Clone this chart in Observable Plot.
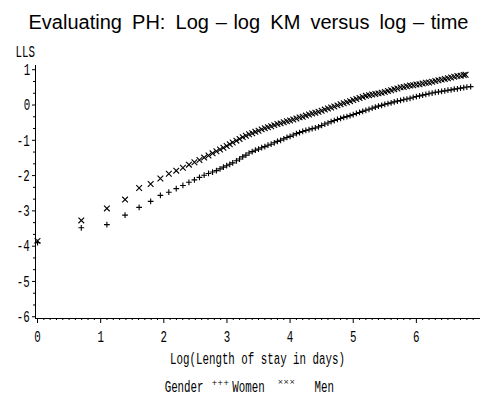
<!DOCTYPE html>
<html><head><meta charset="utf-8">
<script src="https://cdn.jsdelivr.net/npm/d3@7"></script>
<script src="https://cdn.jsdelivr.net/npm/@observablehq/plot@0.6"></script>
<style>body{margin:0;background:#fff} svg{display:block}</style>
</head><body><div id="chart"></div>
<script>
// Early distinct lengths of stay (days) -> plotted at log(day)
const earlyDays = [1,2,3,4,5,6,7,8,9,10,11,12,13,14,15,16,17,18,19,20,21,22];
const womenEarly = [-3.90,-3.48,-3.39,-3.12,-2.90,-2.73,-2.56,-2.47,-2.37,-2.28,-2.19,-2.12,-2.05,-1.99,-1.94,-1.90,-1.86,-1.81,-1.76,-1.72,-1.68,-1.64];
const menEarly   = [-3.85,-3.27,-2.93,-2.68,-2.35,-2.24,-2.08,-1.95,-1.86,-1.78,-1.69,-1.62,-1.56,-1.49,-1.43,-1.37,-1.31,-1.26,-1.21,-1.16,-1.11,-1.06];

// Dense part of the curves, read at log-time positions
const lateLogT = [3.15,3.20,3.25,3.30,3.35,3.40,3.45,3.50,3.55,3.60,3.65,3.70,3.75,3.80,3.85,3.90,3.95,
  4.00,4.05,4.10,4.15,4.20,4.25,4.30,4.35,4.40,4.45,4.50,4.55,4.60,4.65,4.70,4.75,4.80,4.85,4.90,4.95,
  5.00,5.05,5.10,5.15,5.20,5.25,5.30,5.35,5.40,5.45,5.50,5.55,5.60,5.65,5.70,5.75,5.80,5.85,5.90,5.95,
  6.00,6.05,6.10,6.15,6.20,6.25,6.30,6.35,6.40,6.45,6.50,6.55,6.60,6.65,6.70,6.75];
const womenLate = [-1.58,-1.53,-1.47,-1.42,-1.36,-1.32,-1.28,-1.25,-1.21,-1.18,-1.14,-1.11,-1.07,-1.03,-1.00,-0.96,-0.92,
  -0.89,-0.85,-0.81,-0.78,-0.75,-0.72,-0.70,-0.67,-0.65,-0.62,-0.58,-0.54,-0.51,-0.47,-0.44,-0.41,-0.38,-0.35,-0.33,-0.30,
  -0.27,-0.24,-0.21,-0.18,-0.15,-0.12,-0.09,-0.06,-0.03,-0.01,0.02,0.04,0.06,0.09,0.11,0.13,0.15,0.17,0.19,0.22,
  0.24,0.26,0.28,0.30,0.32,0.34,0.36,0.37,0.39,0.40,0.42,0.43,0.45,0.46,0.48,0.49];
const menLate = [-1.01,-0.96,-0.91,-0.87,-0.83,-0.80,-0.76,-0.73,-0.69,-0.66,-0.63,-0.60,-0.57,-0.54,-0.52,-0.49,-0.46,
  -0.44,-0.41,-0.38,-0.35,-0.33,-0.30,-0.27,-0.24,-0.22,-0.19,-0.16,-0.13,-0.10,-0.07,-0.04,-0.01,0.02,0.05,0.08,0.11,
  0.14,0.17,0.20,0.23,0.26,0.28,0.30,0.31,0.33,0.35,0.37,0.40,0.42,0.45,0.47,0.50,0.51,0.53,0.55,0.56,
  0.58,0.59,0.61,0.63,0.64,0.66,0.68,0.70,0.72,0.74,0.76,0.78,0.80,0.82,0.83,0.85];
const womenTailLogT = [6.80, 6.86];
const womenTail = [0.51, 0.52];
const menTailLogT = [6.78];
const menTail = [0.86];

const xMajor = [0,1,2,3,4,5,6];
const yMajor = [-6,-5,-4,-3,-2,-1,0,1];
const xMinor = d3.range(0, 70).map(i => i / 10).filter(v => Math.abs(v - Math.round(v)) > 1e-9);
const yMinor = d3.range(-18, 4).map(i => i / 3).filter(v => Math.abs(v - Math.round(v)) > 1e-9);

const titleText = "Evaluating PH: Log\u2004\u2013\u2004log KM versus log\u2004\u2013\u2004time";
const xLabel = "Log(Length of stay in days)";
const yLabel = "LLS";
const womenSym = "+++";
const menSym = "\u00d7\u00d7\u00d7";

function build(logT, lls) { return logT.map((x, i) => ({logT: x, lls: lls[i]})); }
const women = build(earlyDays.map(Math.log).concat(lateLogT, womenTailLogT), womenEarly.concat(womenLate, womenTail));
const men = build(earlyDays.map(Math.log).concat(lateLogT, menTailLogT), menEarly.concat(menLate, menTail));

const T = (txt, o) => Plot.text([txt], {text: d => d, lineAnchor: "middle", fill: "#000", ...o});

const chart = Plot.plot({
  width: 480, height: 410,
  marginLeft: 35, marginRight: 1, marginTop: 65, marginBottom: 92,
  style: {fontFamily: "'Liberation Mono', monospace", fontSize: "12px", color: "#000", background: "#fff"},
  x: {domain: [-0.032, 7.0], ticks: xMajor, tickSize: 5, tickPadding: 9, tickFormat: d => String(d), line: true, label: null},
  y: {domain: [-6.05, 1.12], ticks: yMajor, tickSize: 3, tickPadding: 2, tickFormat: d => String(d), line: true, label: null},
  marks: [
    Plot.ruleX(xMinor, {x: d => d, insetTop: 253, insetBottom: -2, stroke: "#000"}),
    Plot.ruleY(yMinor, {y: d => d, insetLeft: -2, insetRight: 444, stroke: "#000"}),
    Plot.dot(women, {x: "logT", y: "lls", symbol: "plus", r: 2, stroke: "#000", fill: "none", strokeWidth: 1.1}),
    Plot.dot(men, {x: "logT", y: "lls", symbol: "times", r: 2.7, stroke: "#000", fill: "none", strokeWidth: 1.1}),
    T(titleText, {frameAnchor: "top", dx: -9, dy: -43, fontFamily: "'Liberation Sans', Arial, sans-serif", fontSize: 20}),
    T(yLabel, {frameAnchor: "top-left", dx: -21, dy: -14, textAnchor: "start"}),
    T(xLabel, {frameAnchor: "bottom", dy: 40}),
    T("Gender", {frameAnchor: "bottom-left", dx: 127, dy: 68, textAnchor: "start"}),
    T(womenSym, {frameAnchor: "bottom-left", dx: 176, dy: 64, textAnchor: "start", fontSize: 7, fontFamily: "'DejaVu Sans', sans-serif"}),
    T("Women", {frameAnchor: "bottom-left", dx: 195, dy: 68, textAnchor: "start"}),
    T(menSym, {frameAnchor: "bottom-left", dx: 242, dy: 63, textAnchor: "start", fontSize: 7, fontFamily: "'DejaVu Sans', sans-serif"}),
    T("Men", {frameAnchor: "bottom-left", dx: 278, dy: 68, textAnchor: "start"})
  ]
});
document.getElementById("chart").appendChild(chart);

// Reference uses a tall, condensed monospace face: stretch those texts about their centres.
for (const t of chart.querySelectorAll("text")) {
  const s = t.textContent;
  if (s === titleText) {
    const w = t.getComputedTextLength();
    const n = (s.match(/ /g) || []).length;
    t.style.wordSpacing = Math.max(0, (440 - w) / n) + "px";
    continue;
  }
  if (s === womenSym || s === menSym) continue;
  const b = t.getBBox();
  const cx = b.x + b.width / 2, cy = b.y + b.height / 2;
  const prev = t.getAttribute("transform") || "";
  t.setAttribute("transform", `${prev} translate(${cx},${cy}) scale(0.9,1.45) translate(${-cx},${-cy})`);
}
</script>
</body></html>
